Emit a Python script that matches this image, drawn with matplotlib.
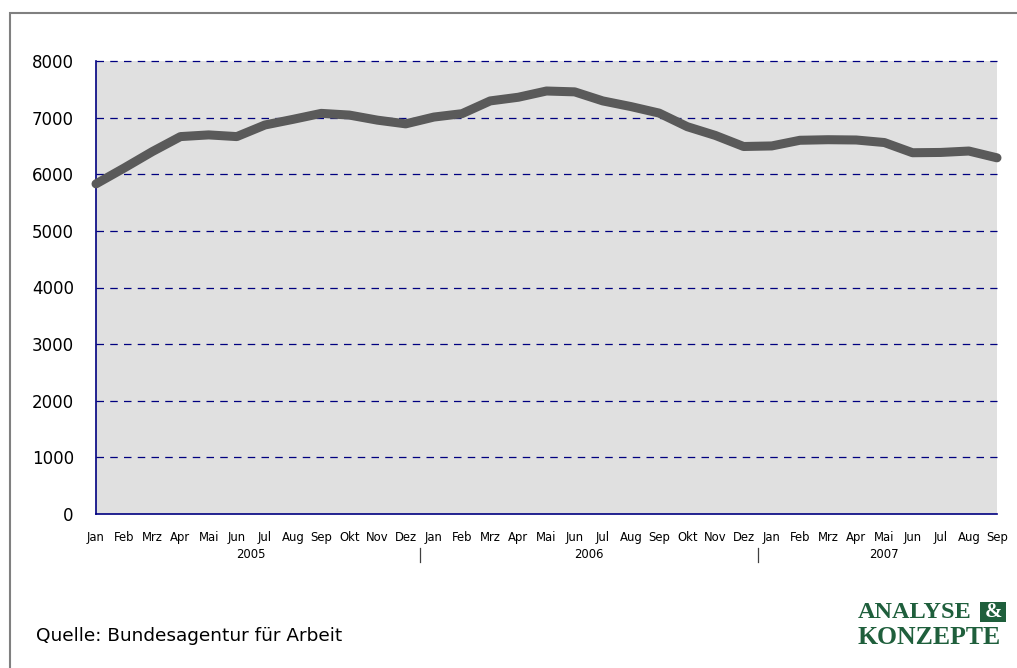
import numpy as np
import matplotlib.pyplot as plt
from matplotlib.patches import Rectangle

months = ['Jan', 'Feb', 'Mrz', 'Apr', 'Mai', 'Jun', 'Jul', 'Aug', 'Sep', 'Okt', 'Nov', 'Dez']
years = ['2005', '2006', '2007']
months_per_year = [12, 12, 9]
values = [5830, 6110, 6400, 6665, 6695, 6665, 6870, 6970, 7075, 7045, 6955, 6890,
          7010, 7070, 7295, 7360, 7470, 7455, 7295, 7195, 7080, 6840, 6685, 6490,
          6500, 6600, 6610, 6605, 6560, 6380, 6385, 6410, 6290]
yticks = [0, 1000, 2000, 3000, 4000, 5000, 6000, 7000, 8000]
source = 'Quelle: Bundesagentur für Arbeit'

labels = []
for n in months_per_year:
    labels += months[:n]
x = np.arange(len(values))

fig = plt.figure(figsize=(10.17, 6.68), dpi=100)
fig.patch.set_facecolor('white')

# outer gray frame (cut off right and bottom)
fig.patches.append(Rectangle((10 / 1017, -0.1), 1.2, (668 - 13) / 668 + 0.1,
                             transform=fig.transFigure, fill=False,
                             edgecolor='#808080', linewidth=1.5))

ax = fig.add_axes([96 / 1017, (668 - 514) / 668, 901 / 1017, 453 / 668])
ax.set_facecolor('#e0e0e0')
navy = '#000080'

for v in yticks[1:]:
    ax.axhline(v, color=navy, linewidth=0.9, linestyle=(0, (6, 5)), zorder=1,
               clip_on=False)

ax.plot(x, values, color='#5a5a5a', linewidth=6.5, solid_capstyle='round',
        solid_joinstyle='round', zorder=3, clip_on=False)

ax.set_xlim(0, len(values) - 1)
ax.set_ylim(0, 8000)
ax.set_yticks(yticks)
ax.set_yticklabels([str(v) for v in yticks], fontsize=12)
ax.tick_params(axis='y', length=0, pad=16)
ax.set_xticks(x)
ax.set_xticklabels(labels, fontsize=8.4)
ax.tick_params(axis='x', length=0, pad=12)

for s in ['top', 'right']:
    ax.spines[s].set_visible(False)
for s in ['left', 'bottom']:
    ax.spines[s].set_color(navy)
    ax.spines[s].set_linewidth(1.2)

# year labels and separators
start = 0
for i, (yr, n) in enumerate(zip(years, months_per_year)):
    center = start + (n - 1) / 2
    ax.text(center, -0.089, yr, transform=ax.get_xaxis_transform(),
            ha='center', va='center', fontsize=8.4)
    if i > 0:
        ax.plot([start - 0.5, start - 0.5], [-0.075, -0.106],
                transform=ax.get_xaxis_transform(), color='#404040',
                linewidth=0.9, clip_on=False)
    start += n

fig.text(36 / 1017, 1 - 636 / 668, source, fontsize=13.3, ha='left', va='center')

# logo
green = '#1f5f3c'
fig.text(858 / 1017, 1 - 612 / 668, 'ANALYSE', family='Liberation Serif',
         fontweight='bold', fontsize=17.5, color=green, ha='left', va='center')
fig.patches.append(Rectangle((980 / 1017, 1 - 622 / 668), 26 / 1017, 20 / 668,
                             transform=fig.transFigure, facecolor=green,
                             edgecolor='none'))
fig.text(993 / 1017, 1 - 612 / 668, '&', family='Liberation Serif',
         fontweight='bold', fontsize=15, color='white', ha='center', va='center')
fig.text(858 / 1017, 1 - 638 / 668, 'KONZEPTE', family='Liberation Serif',
         fontweight='bold', fontsize=18.5, color=green, ha='left', va='center')

fig.savefig('out.png', dpi=100)
